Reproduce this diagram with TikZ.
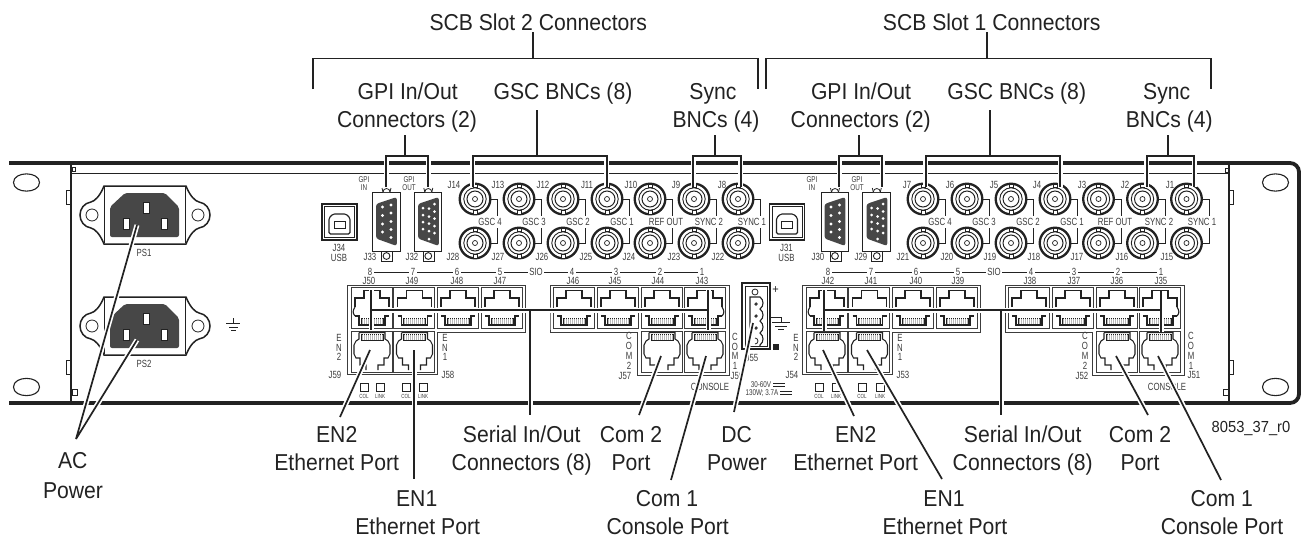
\documentclass[tikz,border=0pt]{standalone}
\usepackage{fontspec}
\setmainfont[FakeStretch=0.92]{Liberation Sans}
\newfontfamily\narrowf[FakeStretch=0.75]{Liberation Sans}
\definecolor{ink}{HTML}{222222}
\definecolor{lab}{HTML}{3c3c3c}
\definecolor{shell}{HTML}{474747}
\newcount\nodecnt
\newcommand\lab[3]{\global\advance\nodecnt by 1 \node[#1] (t\the\nodecnt) at (#2) {#3};}
\tikzset{
  main/.style={anchor=base,yshift=-8.2pt,inner sep=0pt,text=ink,font=\fontsize{23}{23}\selectfont},
  sm/.style={anchor=base,yshift=-3.7pt,inner sep=0pt,text=lab,font=\narrowf\fontsize{10.4}{11}\selectfont},
  smw/.style={sm,fill=white,inner xsep=1.5pt,inner ysep=0.5pt},
  xs/.style={anchor=base,yshift=-3pt,inner sep=0pt,text=lab,font=\narrowf\fontsize{8.4}{9}\selectfont},
  tn/.style={anchor=base,yshift=-2pt,inner sep=0pt,text=lab,font=\narrowf\fontsize{6}{6}\selectfont},
  vlt/.style={anchor=base,yshift=-2.8pt,inner sep=0pt,text=lab,font=\narrowf\fontsize{8.4}{9}\selectfont},
  ref/.style={anchor=base,yshift=-5.5pt,inner sep=0pt,text=ink,font=\fontsize{16}{16}\selectfont},
  heavy/.style={draw=ink,line width=3.8pt},
  frame/.style={draw=ink,line width=1.3pt},
  cellbox/.style={draw=lab,line width=0.8pt},
  jack/.style={draw=ink,line width=1.1pt,line join=miter},
  link/.style={draw=ink,line width=0.8pt},
  leader/.style={draw=ink,line width=1.7pt,line join=bevel,preaction={draw=white,line width=5pt}},
  brk/.style={draw=ink,line width=1.6pt,line join=miter}
}
\newcommand\contacts[2]{%
  \fill[gray!55] (10,#1) rectangle (32,#2);
  \draw[ink,line width=0.5pt] (10,#1) rectangle (32,#2);
  \foreach \i in {12,14,...,30} \draw[white,line width=0.6pt] (\i,#1)--(\i,#2);
}
\newcommand\rjup[2]{\begin{scope}[shift={(#1,#2)}]
  \draw[cellbox] (0,0) rectangle (41,41);
  \draw[jack] (4,20)--(4,11)--(13,11)--(13,3.5)--(29,3.5)--(29,11)--(38,11)--(38,20);
  \draw[jack] (4,29)--(8,29)--(8,38)--(34,38)--(34,29)--(38,29);
  \contacts{31}{37}
\end{scope}}
\newcommand\rjdn[2]{\begin{scope}[shift={(#1,#2)}]
  \draw[cellbox] (0,0) rectangle (41,41);
  \draw[jack] (8,1.5)--(34,1.5)--(34,8)--(37,10)--(39,14)--(39,23)--(37,27)--(33,27)--(33,34)--(27,34)--(27,39);
  \draw[jack] (15,39)--(15,34)--(9,34)--(9,27)--(5,27)--(3,23)--(3,14)--(5,10)--(8,8)--(8,1.5);
  \contacts{3}{9}
\end{scope}}
\newcommand\bncbody{%
  \draw[ink,line width=2.3pt,fill=white] (0,0) circle (15.3);
  \draw[ink,line width=0.9pt] (0,0) circle (11.2);
  \draw[ink,line width=1pt] (0,0) circle (8);
  \draw[ink,line width=0.7pt] (0,0) circle (2.5);
  \draw[ink,line width=0.7pt,fill=white] (-2,-15) rectangle (2,-11.2);
  \draw[ink,line width=0.7pt,fill=white] (-2,11.2) rectangle (2,15);
}
\newcommand\bnc[2]{\begin{scope}[shift={(#1,#2)}]
  \bncbody
  \draw[link] (15.3,0)--(22.5,0)--(22.5,17);
  \draw[link] (22.5,29)--(22.5,44)--(15.3,44);
\end{scope}}
\newcommand\bncB[2]{\begin{scope}[shift={(#1,#2)}]\bncbody\end{scope}}
\newcommand\psu[1]{\begin{scope}[shift={(0,#1)}]
  \draw[ink,line width=1.5pt,fill=white] (104,186)--(186,186)
     .. controls (190,196) and (195,201) .. (199,202)
     .. controls (206,203) and (210,209) .. (210,215)
     .. controls (210,221) and (206,227) .. (199,228)
     .. controls (195,229) and (190,234) .. (186,244)
     --(104,244)
     .. controls (100,234) and (95,229) .. (91,228)
     .. controls (84,227) and (80,221) .. (80,215)
     .. controls (80,209) and (84,203) .. (91,202)
     .. controls (95,201) and (100,196) .. (104,186)--cycle;
  \draw[ink,line width=0.8pt] (104,187)--(104,243) (185,187)--(185,243);
  \draw[ink,line width=0.8pt] (92,215) circle (6);
  \draw[ink,line width=0.8pt] (198,215) circle (6);
  \fill[shell,rounded corners=2pt] (125,193)--(165,193)--(179,207)--(179,237)--(110,237)--(110,207)--cycle;
  \draw[ink,line width=0.6pt,fill=white] (143,202) rectangle (149,213);
  \draw[ink,line width=0.6pt,fill=white] (123,218) rectangle (129,229);
  \draw[ink,line width=0.6pt,fill=white] (161,218) rectangle (167,229);
\end{scope}}
\newcommand\plate{%
  \draw[ink,line width=0.9pt,fill=white] (0,0) rectangle (27.5,59);
  \draw[ink,line width=0.9pt] (9,59)--(9,69)--(20,69)--(20,59);
  \draw[ink,line width=0.9pt] (14,64) circle (3.4);
  \draw[ink,line width=0.8pt,fill=white] (10.5,0) arc[start angle=180,end angle=360,radius=3.5];
  \draw[ink,line width=0.8pt] (10.5,0)--(9.5,-4) (17.5,0)--(18.5,-4);
}
\newcommand\ledpair[2]{%
  \draw[ink,line width=0.9pt] (#1-4,383) rectangle (#1+4,391);
  \draw[ink,line width=0.9pt] (#2-4,383) rectangle (#2+4,391);
  \lab{tn}{#1,396.5}{COL}
  \lab{tn}{#2,396.5}{LINK}
}
\newcommand\panelgroup[1]{\begin{scope}[shift={(#1,0)}]
  \draw[cellbox] (347,285)--(525.5,285)--(525.5,332)--(437.5,332)--(437.5,374.5)--(347,374.5)--cycle;
  \draw[cellbox] (550,328)--(550,285)--(729,285)--(729,375)--(637.5,375)--(637.5,332)--(550,332)--cycle;
  \foreach \q in {351,393.5,437,481,553,597,641,684} {\rjup{\q}{287}}
  \foreach \q in {351,393.5,641,684} {\rjdn{\q}{331}}
\end{scope}}
\newcommand\sideL[1]{\draw[jack] (#1+4,307) .. controls (#1+1.5,311) and (#1+1.5,313) .. (#1+4,316);}
\newcommand\sideR[1]{\draw[jack] (#1+38,307) .. controls (#1+40.5,311) and (#1+40.5,313) .. (#1+38,316);}
\begin{document}
\begin{tikzpicture}[x=1pt,y=-1pt]
\useasboundingbox (0,0) rectangle (1304,539);
\fill[white] (0,0) rectangle (1304,539);

% chassis
\draw[heavy,rounded corners=9pt] (9,163)--(1299,163)--(1299,403)--(9,403);
\draw[ink,line width=1pt] (71,173)--(1229,173);
\draw[frame] (71,165)--(71,402);
\draw[frame] (1229,165)--(1229,402);
\foreach \u in {190,360} {
  \draw[ink,line width=0.9pt] (71,\u)--(66.5,\u)--(66.5,\u+14)--(71,\u+14);
  \draw[ink,line width=0.9pt] (1229,\u)--(1233.5,\u)--(1233.5,\u+14)--(1229,\u+14);
}
\draw[ink,line width=0.7pt] (72,167) rectangle (75,171);
\draw[ink,line width=0.7pt] (1225,168) rectangle (1228,172);
\draw[ink,line width=0.7pt] (72,389) rectangle (77,395);
\draw[ink,line width=0.7pt] (1223,389) rectangle (1228,395);
\foreach \p in {26.5,1275.5} {
  \foreach \q in {182.5,387} {
    \draw[ink,line width=1.1pt] (\p-13,\q) .. controls (\p-13,\q-11.5) and (\p+13,\q-11.5) .. (\p+13,\q)
       .. controls (\p+13,\q+11.5) and (\p-13,\q+11.5) .. (\p-13,\q)--cycle;
  }
}

% power inlets
\psu{0}
\psu{111}
\lab{sm}{144,253}{PS1}
\lab{sm}{144,364}{PS2}
\draw[ink,line width=0.9pt] (233,318)--(233,323) (226,323)--(240,323) (229,327)--(237.5,327) (231,330.5)--(235.5,330.5);

% USB, D-sub, BNC for both slots
\foreach \dx in {0,447.5} {
\begin{scope}[shift={(\dx,0)}]
  \draw[ink,line width=1.1pt] (322,204) rectangle (357,240);
  \draw[ink,line width=0.7pt] (324.5,206.5) rectangle (354.5,237.5);
  \draw[ink,line width=1.1pt,rounded corners=1.5pt] (329,218)--(333,214)--(346,214)--(350,218)--(350,234)--(329,234)--cycle;
  \draw[ink,line width=0.9pt] (334,221.5) rectangle (345,228);
\end{scope}
}
\lab{sm}{339,247.5}{J34}
\lab{sm}{339,257.5}{USB}
\lab{sm}{786.5,247.5}{J31}
\lab{sm}{786.5,257.5}{USB}

\foreach \dx in {0,448.5} {
\begin{scope}[shift={(\dx,0)}]
  \begin{scope}[shift={(372.5,192)}] \plate \end{scope}
  \begin{scope}[shift={(414.3,192)}] \plate \end{scope}
  \fill[shell,rounded corners=2.5pt] (376,204)--(396.8,197)--(396.8,246)--(376,238.5)--cycle;
  \foreach \p/\q in {382.5/207,382.5/215.5,382.5/224,382.5/232,391/205,391/213,391/221.5,391/229.5,391/237.5}
    \fill[white] (\p,\q) circle (1.7);
  \fill[shell,rounded corners=2.5pt] (418,204)--(438.8,197)--(438.8,246)--(418,238.5)--cycle;
  \foreach \p/\q in {423/208,423/215,423/222,423/229,429/208.5,429/216.5,429/223.5,429/231,429/239,434.5/204,434.5/211.5,434.5/218.5,434.5/226,434.5/233}
    \fill[white] (\p,\q) circle (1.5);
\end{scope}
}
\foreach \q in {475,519,563,607,650,694,738,923,967,1011,1055,1098.5,1142.5,1186.5} {
  \bnc{\q}{199}
  \bncB{\q}{243}
}

% connector texts (top part)
\foreach \p/\s in {370/J33,412/J32,818/J30,861/J29} {\lab{sm}{\p,257}{\s}}
\foreach \p/\s in {364/GPI,409/GPI,812/GPI,857/GPI} {\lab{xs}{\p,179}{\s}}
\foreach \p/\s in {364/IN,409/OUT,812/IN,857/OUT} {\lab{xs}{\p,187}{\s}}
\foreach \p/\s in {454/J14,498/J13,543/J12,587/J11,631/J10,676/J9,722/J8,907/J7,950/J6,994/J5,1037/J4,1082/J3,1125/J2,1170/J1} {\lab{sm}{\p,185}{\s}}
\foreach \p/\s in {453/J28,498/J27,542/J26,586/J25,629/J24,674/J23,718/J22,903/J21,947/J20,990/J19,1034/J18,1077/J17,1122/J16,1167/J15} {\lab{sm}{\p,257}{\s}}
\foreach \p/\s in {490/GSC 4,534/GSC 3,578/GSC 2,622/GSC 1,666/REF OUT,709/SYNC 2,752/SYNC 1,940/GSC 4,984/GSC 3,1028/GSC 2,1072/GSC 1,1115/REF OUT,1159/SYNC 2,1202/SYNC 1} {\lab{sm}{\p,222}{\s}}

% SIO rows
\draw[link,line width=0.7pt] (370,272)--(702,272);
\draw[link,line width=0.7pt] (828,272)--(1161,272);
\foreach \p/\s in {370/8,413/7,457/6,500/5,536/SIO,572/4,616/3,660/2,702/1,828/8,871/7,916/6,958/5,994/SIO,1031/4,1074/3,1118/2,1161/1} {\lab{smw}{\p,272}{\s}}
\foreach \p/\s in {369/J50,412/J49,457/J48,500/J47,573/J46,615/J45,658/J44,702/J43,828/J42,871/J41,916/J40,958/J39,1030/J38,1074/J37,1117/J36,1161/J35} {\lab{sm}{\p,280.5}{\s}}

% RJ45 blocks
\panelgroup{0}
\panelgroup{455}
\sideL{351}\sideR{684}\sideL{806}\sideR{1139}

% vertical port labels
\foreach \p/\q/\s in {339/338/E,339/347.5/N,339/357/2,445/338/E,445/347.5/N,445/357/1,
  629/336/C,629/346/O,629/355.5/M,629/366/2,735/337/C,735/346.5/O,735/356/M,735/366/1,
  796/338/E,796/347.5/N,796/357/2,900/338/E,900/347.5/N,900/357/1,
  1085/336/C,1085/346/O,1085/355.5/M,1085/366/2,1191/336/C,1191/346/O,1191/355.5/M,1191/366/1} {\lab{sm}{\p,\q}{\s}}
\foreach \p/\q/\s in {335/375/J59,448/375/J58,625/376/J57,737/375.5/J56,792/374.5/J54,903/374.5/J53,1082/375.5/J52,1194/375/J51} {\lab{sm}{\p,\q}{\s}}
\lab{sm}{710,387}{CONSOLE}
\lab{sm}{1167,387}{CONSOLE}
\ledpair{364}{380}
\ledpair{406}{423}
\ledpair{819}{836}
\ledpair{862}{880}

% DC connector
\draw[ink,line width=1.2pt] (742,283) rectangle (770,349);
\draw[ink,line width=0.7pt] (745,286) rectangle (767,346);
\draw[ink,line width=0.8pt] (755,292) circle (3);
\draw[ink,line width=1.1pt] (750,346)--(750,297)--(760,297) .. controls (764,300) and (764,306) .. (760,309)
  .. controls (764,312) and (764,318) .. (760,321) .. controls (764,324) and (764,330) .. (760,333)
  .. controls (764,336) and (764,342) .. (760,345)--(760,346);
\foreach \q in {304,316,328} \draw[ink,line width=0.8pt] (756,\q) circle (1.2);
\draw[ink,line width=0.8pt] (755,338) arc[start angle=-90,end angle=90,radius=3];
\lab{main,font=\fontsize{12}{12}\selectfont,yshift=4pt}{775.5,289}{+}
\draw[link] (770,317)--(781,317)--(781,322.5);
\draw[ink,line width=0.9pt] (772,322.5)--(790,322.5) (775,326)--(787,326) (778,329.5)--(784,329.5);
\fill[ink] (773,344) rectangle (779,350);
\lab{sm}{752,358}{J55}
\lab{vlt}{761,385}{30-60V}
\lab{vlt}{762,393}{130W; 3.7A}
\draw[ink,line width=0.8pt] (773,383.5)--(785,383.5) (773,386.5)--(785,386.5);
\draw[ink,line width=0.8pt] (780,391.5)--(792,391.5) (780,394.5)--(792,394.5);

% named leader ends
\coordinate (acPSa) at (137,225);
\coordinate (acPSb) at (137,340);
\coordinate (acTip) at (76,439);
\coordinate (en2a) at (370,350);   \coordinate (en2aE) at (340,417);
\coordinate (en1a) at (414,350);   \coordinate (en1aE) at (414,479);
\coordinate (sioaL) at (371,290);  \coordinate (sioaLb) at (371,330);
\coordinate (sioaR) at (708,290);  \coordinate (sioaRb) at (708,330);
\coordinate (sioaH) at (371,310);  \coordinate (sioaHr) at (708,310);
\coordinate (sioaC) at (530,310);  \coordinate (sioaE) at (530,415);
\coordinate (com2a) at (661,356);  \coordinate (com2aE) at (639,415);
\coordinate (com1a) at (706,356);  \coordinate (com1aE) at (671,480);
\coordinate (dcA) at (753,323);    \coordinate (dcE) at (734,412);
\coordinate (en2b) at (823,350);   \coordinate (en2bE) at (854,416);
\coordinate (en1b) at (867,350);   \coordinate (en1bE) at (942,479);
\coordinate (siobL) at (824,290);  \coordinate (siobLb) at (824,331);
\coordinate (siobR) at (1161,291); \coordinate (siobRb) at (1161,332);
\coordinate (siobH) at (824,310);  \coordinate (siobHr) at (1161,310);
\coordinate (siobC) at (1001,310); \coordinate (siobE) at (1001,415);
\coordinate (com2b) at (1116,356); \coordinate (com2bE) at (1148,415);
\coordinate (com1b) at (1158,356); \coordinate (com1bE) at (1221,480);

\draw[leader] (acPSa)--(acTip)--(acPSb);
\draw[leader] (en2a)--(en2aE);
\draw[leader] (en1a)--(en1aE);
\draw[leader] (sioaL)--(sioaLb) (sioaR)--(sioaRb) (sioaH)--(sioaHr) (sioaC)--(sioaE);
\draw[leader] (com2a)--(com2aE);
\draw[leader] (com1a)--(com1aE);
\draw[leader] (dcA)--(dcE);
\draw[leader] (en2b)--(en2bE);
\draw[leader] (en1b)--(en1bE);
\draw[leader] (siobL)--(siobLb) (siobR)--(siobRb) (siobH)--(siobHr) (siobC)--(siobE);
\draw[leader] (com2b)--(com2bE);
\draw[leader] (com1b)--(com1bE);

% brackets
\coordinate (bA1) at (312.7,89); \coordinate (bA2) at (312.7,58.5); \coordinate (bA3) at (757.7,58.5); \coordinate (bA4) at (757.7,89);
\coordinate (bAc) at (533,58.5); \coordinate (bAt) at (533,32);
\coordinate (bB1) at (766,89); \coordinate (bB2) at (766,58.5); \coordinate (bB3) at (1211,58.5); \coordinate (bB4) at (1211,89);
\coordinate (bBc) at (986.7,58.5); \coordinate (bBt) at (986.7,32);
\draw[brk] (bA1)--(bA2)--(bA3)--(bA4) (bAc)--(bAt);
\draw[brk] (bB1)--(bB2)--(bB3)--(bB4) (bBc)--(bBt);
\foreach \a/\b/\c/\t in {386/428/405/135,472.7/606.7/537/110,693/740.7/715/135,839/882/858.7/135,925.7/1060/990/110,1146.7/1194/1167.7/135} {
  \coordinate (sa) at (\a,187); \coordinate (sb) at (\a,155.7); \coordinate (sc) at (\b,155.7); \coordinate (sd) at (\b,187);
  \coordinate (se) at (\c,155.7); \coordinate (sf) at (\c,\t);
  \draw[brk,preaction={draw=white,line width=5pt}] (sa)--(sb)--(sc)--(sd);
  \draw[brk] (se)--(sf);
}

% main labels
\lab{main}{538.3,22}{SCB Slot 2 Connectors}
\lab{main}{991.7,22}{SCB Slot 1 Connectors}
\lab{main}{407.7,91.5}{GPI In/Out}
\lab{main}{407,119.5}{Connectors (2)}
\lab{main}{563,91.5}{GSC BNCs (8)}
\lab{main}{713,91.5}{Sync}
\lab{main}{716,119.5}{BNCs (4)}
\lab{main}{861,91.5}{GPI In/Out}
\lab{main}{860.7,119.5}{Connectors (2)}
\lab{main}{1016.7,91.5}{GSC BNCs (8)}
\lab{main}{1166.7,91.5}{Sync}
\lab{main}{1169.3,119.5}{BNCs (4)}
\lab{main}{72.7,460.5}{AC}
\lab{main}{73,490}{Power}
\lab{main}{336.7,434}{EN2}
\lab{main}{336.7,462}{Ethernet Port}
\lab{main}{416.7,498}{EN1}
\lab{main}{417.7,526}{Ethernet Port}
\lab{main}{521.7,434}{Serial In/Out}
\lab{main}{521.7,462}{Connectors (8)}
\lab{main}{631,434}{Com 2}
\lab{main}{631,462}{Port}
\lab{main}{667,498}{Com 1}
\lab{main}{667.7,526}{Console Port}
\lab{main}{736.7,434}{DC}
\lab{main}{737,462}{Power}
\lab{main}{855.7,434}{EN2}
\lab{main}{855.7,462}{Ethernet Port}
\lab{main}{944,498}{EN1}
\lab{main}{945,526}{Ethernet Port}
\lab{main}{1022.7,434}{Serial In/Out}
\lab{main}{1022.7,462}{Connectors (8)}
\lab{main}{1140,434}{Com 2}
\lab{main}{1140,462}{Port}
\lab{main}{1221.7,498}{Com 1}
\lab{main}{1222,526}{Console Port}
\lab{ref}{1251,427}{8053\_37\_r0}
\end{tikzpicture}
\end{document}
